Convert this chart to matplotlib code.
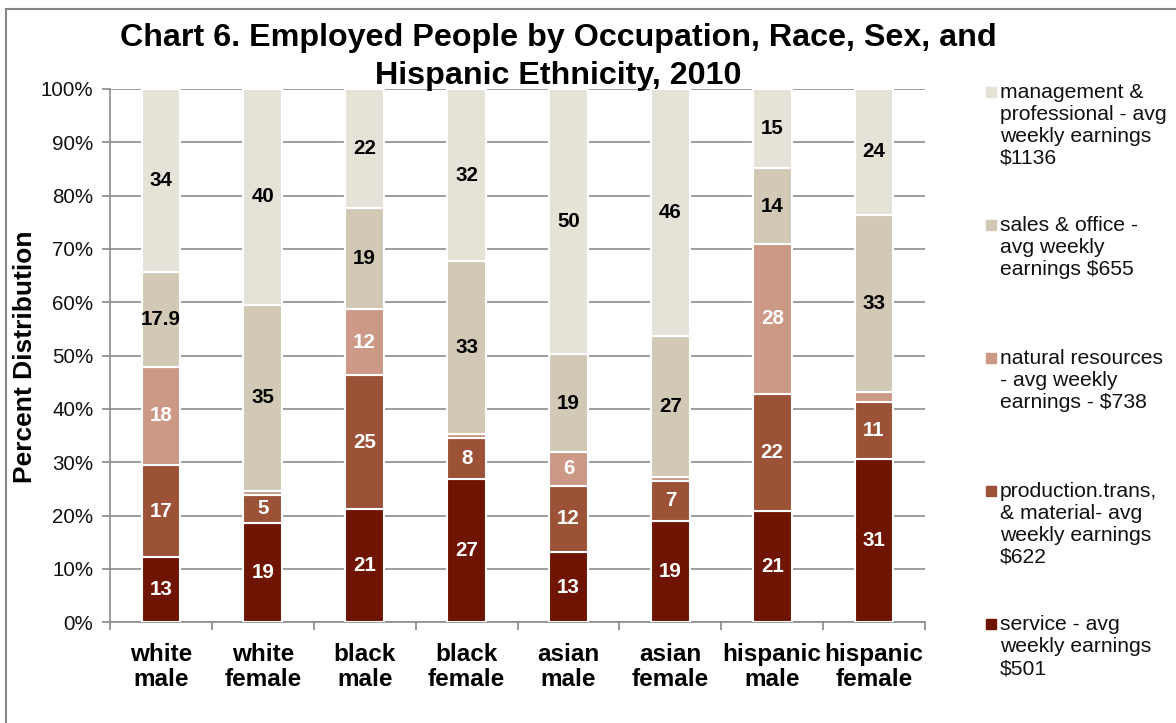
import matplotlib
matplotlib.use("Agg")
import matplotlib.pyplot as plt
from matplotlib.lines import Line2D
from matplotlib.patches import Rectangle
import numpy as np

plt.rcParams['font.family'] = ['Liberation Sans', 'DejaVu Sans']

groups = ['white\nmale', 'white\nfemale', 'black\nmale', 'black\nfemale',
          'asian\nmale', 'asian\nfemale', 'hispanic\nmale', 'hispanic\nfemale']

# percent of employed (bottom to top)
service = [12.2, 18.6, 21.2, 26.9, 13.2, 19.0, 20.9, 30.6]
production = [17.3, 5.3, 25.2, 7.6, 12.4, 7.5, 22.0, 10.8]
natural = [18.4, 0.8, 12.3, 0.8, 6.3, 0.7, 28.0, 1.8]
sales = [17.8, 34.8, 19.0, 32.4, 18.4, 26.4, 14.3, 33.2]
mgmt = [34.3, 40.5, 22.3, 32.3, 49.7, 46.4, 14.8, 23.6]

# data labels as printed on the bars
service_lbl = ['13', '19', '21', '27', '13', '19', '21', '31']
production_lbl = ['17', '5', '25', '8', '12', '7', '22', '11']
natural_lbl = ['18', '', '12', '', '6', '', '28', '']
sales_lbl = ['17.9', '35', '19', '33', '19', '27', '14', '33']
mgmt_lbl = ['34', '40', '22', '32', '50', '46', '15', '24']

legend_names = [
    'service - avg\nweekly earnings\n$501',
    'production.trans,\n& material- avg\nweekly earnings\n$622',
    'natural resources\n- avg weekly\nearnings - $738',
    'sales & office -\navg weekly\nearnings $655',
    'management &\nprofessional - avg\nweekly earnings\n$1136',
]
colors = ['#6e1400', '#9b5237', '#cb9985', '#d1c9b5', '#e5e2d7']
label_colors = ['white', 'white', 'white', 'black', 'black']


def main():
    W, H = 1176, 723
    fig = plt.figure(figsize=(W / 100, H / 100), dpi=100)
    ax = fig.add_axes([110 / W, 1 - 622.3 / H, (925 - 110) / W, (622.3 - 89) / H])

    series = [service, production, natural, sales, mgmt]
    labels = [service_lbl, production_lbl, natural_lbl, sales_lbl, mgmt_lbl]
    x = np.arange(len(groups))
    bottom = np.zeros(len(groups))
    for vals, lbl, c, tc in zip(series, labels, colors, label_colors):
        bars = ax.bar(x, vals, 0.38, bottom=bottom, color=c,
                      edgecolor='white', linewidth=1.5, zorder=3)
        ax.bar_label(bars, labels=lbl, label_type='center', color=tc,
                     fontsize=14.8, fontweight='bold')
        bottom += np.array(vals)

    ax.set_xlim(-0.5, len(groups) - 0.5)
    ax.set_ylim(0, 100)
    ax.set_yticks(np.arange(0, 101, 10))
    ax.set_yticklabels([f'{v}%' for v in range(0, 101, 10)])
    ax.set_xticks(x)
    ax.set_xticklabels(groups, fontsize=17.5, fontweight='bold', linespacing=1.08)
    ax.set_xticks(np.arange(-0.5, len(groups), 1), minor=True)
    ax.tick_params(axis='x', which='major', length=0, pad=15)
    ax.tick_params(axis='x', which='minor', length=6, color='#888888', width=1.2)
    ax.tick_params(axis='y', length=6, color='#888888', width=1.2,
                   labelsize=14.8, labelcolor='#111111', pad=6)

    ax.grid(axis='y', color='#8c8c8c', linewidth=1.2, zorder=0)
    ax.set_axisbelow(True)
    for s in ['top', 'right']:
        ax.spines[s].set_visible(False)
    for s in ['left', 'bottom']:
        ax.spines[s].set_color('#8c8c8c')
        ax.spines[s].set_linewidth(1.2)

    fig.text(25 / W, 1 - 357 / H, 'Percent Distribution', rotation=90,
             ha='center', va='center', fontsize=19, fontweight='bold')

    fig.text(558 / W, 1 - 46 / H,
             'Chart 6. Employed People by Occupation, Race, Sex, and',
             ha='center', va='baseline', fontsize=23.2, fontweight='bold')
    fig.text(558 / W, 1 - 84 / H, 'Hispanic Ethnicity, 2010',
             ha='center', va='baseline', fontsize=23.2, fontweight='bold')

    # legend, top entry first
    fs = 15.2
    asc = 0.729 * fs * 100 / 72
    for i, (name, c) in enumerate(zip(legend_names[::-1], colors[::-1])):
        base = 98 + 133.1 * i
        fig.text(1000 / W, 1 - (base - asc) / H, name, ha='left', va='top',
                 fontsize=fs, color='#111111', linespacing=1.2)
        fig.add_artist(Rectangle((986 / W, 1 - (base - 1) / H), 10 / W, 10 / H,
                                 transform=fig.transFigure, color=c))

    # chart frame
    fig.add_artist(Line2D([6 / W, 1], [1 - 9 / H, 1 - 9 / H],
                          transform=fig.transFigure, color='#878787', lw=1.5))
    fig.add_artist(Line2D([6 / W, 6 / W], [0, 1 - 9 / H],
                          transform=fig.transFigure, color='#878787', lw=1.5))

    fig.savefig('out.png', dpi=100)


if __name__ == "__main__":
    main()
